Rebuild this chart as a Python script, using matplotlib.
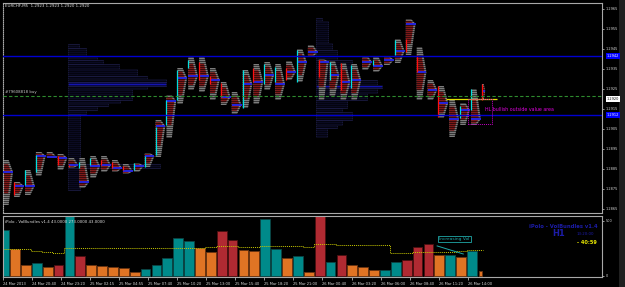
import matplotlib
matplotlib.use("Agg")
import matplotlib.pyplot as plt
import matplotlib.transforms as mtrans
from matplotlib.patches import Polygon, Rectangle
import numpy as np

plt.rcParams['font.family'] = ['DejaVu Sans']

# ---------------- data ----------------
title_text = "EURCHF,M5  1.2923 1.2923 1.2920 1.2920"
vol_title = "iPolo - VolBundles v1.4 43.0000 273.0000 43.0000"

slots = list(range(1, 46))  # hourly slots

prof_hi = [1.28895, 1.28785, 1.28845, 1.28935, 1.28935, 1.28925, 1.28905, 1.28905, 1.28915, 1.28915,
           1.28895, 1.28875, 1.28880, 1.28930, 1.29095, 1.29220, 1.29355, 1.29410, 1.29410, 1.29355,
           1.29285, 1.29235, 1.29345, 1.29375, 1.29385, 1.29375, 1.29390, 1.29450, 1.29470, 1.29400,
           1.29390, 1.29380, 1.29375, 1.29415, 1.29410, 1.29415, 1.29500, 1.29600, 1.29460, 1.29295,
           1.29265, 1.29195, 1.29180, 1.29250, 1.29275]
prof_lo = [1.28670, 1.28710, 1.28720, 1.28815, 1.28905, 1.28845, 1.28855, 1.28755, 1.28805, 1.28835,
           1.28835, 1.28825, 1.28835, 1.28860, 1.28910, 1.29005, 1.29175, 1.29245, 1.29235, 1.29195,
           1.29170, 1.29125, 1.29155, 1.29175, 1.29245, 1.29195, 1.29295, 1.29285, 1.29410, 1.29195,
           1.29215, 1.29195, 1.29195, 1.29345, 1.29335, 1.29370, 1.29380, 1.29420, 1.29195, 1.29195,
           1.29105, 1.29010, 1.29070, 1.29070, 1.29195]
prof_poc = [1.28835, 1.28765, 1.28765, 1.28915, 1.28910, 1.28905, 1.28870, 1.28785, 1.28865, 1.28870,
            1.28855, 1.28840, 1.28865, 1.28915, 1.29065, 1.29190, 1.29305, 1.29315, 1.29315, 1.29295,
            1.29210, 1.29170, 1.29275, 1.29285, 1.29320, 1.29275, 1.29335, 1.29385, 1.29435, 1.29385,
            1.29320, 1.29285, 1.29295, 1.29385, 1.29365, 1.29395, 1.29440, 1.29575, 1.29335, 1.29245,
            1.29180, 1.29100, 1.29145, 1.29100, 1.29240]
prof_open = [1.28840, 1.28785, 1.28770, 1.28835, 1.28915, 1.28915, 1.28870, 1.28855, 1.28870, 1.28895,
             1.28885, 1.28865, 1.28845, 1.28860, 1.28920, 1.29070, 1.29195, 1.29355, 1.29385, 1.29315,
             1.29280, 1.29170, 1.29155, 1.29355, 1.29275, 1.29285, 1.29355, 1.29285, 1.29440, 1.29395,
             1.29295, 1.29380, 1.29255, 1.29390, 1.29370, 1.29400, 1.29420, 1.29500, 1.29420, 1.29250,
             1.29265, 1.29100, 1.29105, 1.29145, 1.29275]
prof_close = [1.28840, 1.28720, 1.28845, 1.28920, 1.28915, 1.28870, 1.28860, 1.28885, 1.28905, 1.28870,
              1.28855, 1.28845, 1.28880, 1.28915, 1.29060, 1.29195, 1.29345, 1.29395, 1.29295, 1.29275,
              1.29210, 1.29170, 1.29345, 1.29285, 1.29375, 1.29360, 1.29295, 1.29445, 1.29440, 1.29310,
              1.29385, 1.29245, 1.29370, 1.29390, 1.29395, 1.29400, 1.29495, 1.29435, 1.29335, 1.29250,
              1.29110, 1.29100, 1.29165, 1.29250, 1.29195]

# composite (session) profiles: anchor slot, row edges (price), row widths (slots)
comp1_anchor = 6.87
comp1_edges = [1.29475, 1.29455, 1.29410, 1.29395, 1.29375, 1.29350, 1.29315, 1.29300, 1.29285,
               1.29265, 1.29250, 1.29195, 1.29180, 1.29165, 1.29145, 1.29125, 1.28875, 1.28855, 1.28745]
comp1_width = [1.01, 1.65, 2.67, 3.22, 4.69, 6.34, 7.26, 9.01, 9.01, 7.26, 5.88, 4.78, 3.68, 2.67,
               1.65, 1.10, 8.46, 1.10]
comp1_poc_row = 8
comp2_anchor = 29.67
comp2_edges = [1.29605, 1.29590, 1.29480, 1.29445, 1.29395, 1.29360, 1.29295, 1.29270, 1.29255,
               1.29230, 1.29195, 1.29155, 1.29135, 1.29095, 1.29070, 1.29055, 1.29010]
comp2_width = [0.55, 1.10, 1.47, 1.93, 3.31, 3.77, 5.61, 6.07, 5.61, 4.69, 2.85, 2.39, 3.31, 2.39,
               1.93, 1.01]
comp2_poc_row = 7

level_blue = [1.29415, 1.29120]
level_blue_labels = ["1.2942", "1.2912"]
order_price = 1.29215
order_label = "#79608818 buy"
bid_price = 1.29200
bid_label = "1.2920"
signal_text = "HL bullish outside value area"
signal_box = (43.64, 45.84, 1.29075, 1.29200)  # slot0, slot1, price lo, price hi
signal_price = 1.29145
yellow_seg = (41.6, 46.3, 1.29200)

price_ticks = [1.2965, 1.2955, 1.2945, 1.2935, 1.2925, 1.2915, 1.2905, 1.2895, 1.2885, 1.2875, 1.2865]

vol = [418, 245, 100, 118, 82, 100, 560, 182, 100, 91,
       82, 73, 36, 64, 100, 164, 345, 318, 255, 218,
       409, 327, 236, 227, 518, 245, 164, 182, 36, 560,
       127, 191, 100, 82, 55, 55, 127, 145, 264, 291,
       191, 191, 173, 227, 43]
vol_type = ['t', 'o', 'o', 't', 'o', 'r', 't', 'r', 'o', 'o',
            'o', 'o', 'o', 't', 't', 't', 't', 't', 'o', 'o',
            'r', 'r', 'o', 'o', 't', 't', 'o', 't', 'o', 'r',
            't', 'r', 'o', 'o', 'o', 't', 't', 'r', 'r', 'r',
            'o', 't', 'o', 't', 'o']
vol_avg = [243, 243, 243, 227, 215, 206, 258, 258, 255, 252,
           252, 252, 252, 250, 250, 250, 250, 252, 258, 262,
           270, 273, 265, 265, 268, 268, 268, 268, 262, 294,
           294, 282, 282, 282, 282, 282, 212, 212, 221, 221,
           221, 221, 225, 236, 236]
vol_ticks = [0, 500]

time_ticks = [0.90, 3.56, 6.23, 8.89, 11.56, 14.22, 16.89, 19.56, 22.22, 24.89,
              27.55, 30.22, 32.97, 35.64, 38.30, 40.97, 43.64]
time_labels = ["24 Mar 2013", "24 Mar 20:40", "24 Mar 23:20", "25 Mar 02:15", "25 Mar 04:55",
               "25 Mar 07:40", "25 Mar 10:20", "25 Mar 13:00", "25 Mar 15:40", "25 Mar 18:20",
               "25 Mar 21:00", "26 Mar 00:40", "26 Mar 03:20", "26 Mar 06:00", "26 Mar 08:40",
               "26 Mar 11:20", "26 Mar 14:00"]

# ---------------- figure ----------------
W, H = 625, 287
fig = plt.figure(figsize=(W / 100, H / 100), dpi=100, facecolor='black')


def fx(px):
    return px / W


def fy(py):
    return 1 - py / H


XL, XR = 3, 602
ax_p = fig.add_axes([fx(XL), fy(213), (XR - XL) / W, (213 - 3) / H])
ax_v = fig.add_axes([fx(XL), fy(277), (XR - XL) / W, (277 - 216) / H])
x_lo = (XL - 15) / 10.88 + 2
x_hi = (XR - 15) / 10.88 + 2
for ax in (ax_p, ax_v):
    ax.set_facecolor('black')
    for sp in ax.spines.values():
        sp.set_color('#a8a8a8')
        sp.set_linewidth(0.8)
    ax.set_xlim(x_lo, x_hi)
ax_p.set_ylim(1.28630, 1.29680)
ax_v.set_ylim(-9.1, 545)

# composite profiles
for anchor, edges, widths, poc_row in ((comp1_anchor, comp1_edges, comp1_width, comp1_poc_row),
                                       (comp2_anchor, comp2_edges, comp2_width, comp2_poc_row)):
    for i, w in enumerate(widths):
        top, bot = edges[i], edges[i + 1]
        fc = '#1414b0' if i == poc_row else '#0a0a22'
        ax_p.add_patch(Rectangle((anchor, bot), w, top - bot, facecolor=fc,
                                 edgecolor='#1e1e48', linewidth=0.5, zorder=1))

# hourly profiles
GRAY, DRED = '#7c7c7c', '#7e1a1a'
for k, s in enumerate(slots):
    hi, lo, poc = prof_hi[k], prof_lo[k], prof_poc[k]
    w = 0.9 if k < len(slots) - 1 else 0.3
    x0 = s - 0.08
    ax_p.add_patch(Polygon([(x0, hi), (x0 + 0.55 * w, hi), (x0 + w, poc), (x0 + 0.55 * w, lo), (x0, lo)],
                           closed=True, facecolor=GRAY, edgecolor='none', zorder=2))
    vah = poc + 0.65 * (hi - poc)
    val = poc - 0.65 * (poc - lo)
    ax_p.add_patch(Polygon([(x0, vah), (x0 + 0.5 * w, vah), (x0 + 0.8 * w, poc), (x0 + 0.5 * w, val), (x0, val)],
                           closed=True, facecolor=DRED, edgecolor='none', zorder=2.1))

# row texture
rows = np.arange(1.28630, 1.29680, 0.0001)
ax_p.hlines(rows, x_lo, x_hi, color='black', linewidth=0.4, zorder=3)

for k, s in enumerate(slots):
    w = 0.9 if k < len(slots) - 1 else 0.3
    x0 = s - 0.08
    ax_p.hlines(prof_poc[k], x0, x0 + w, color='#2424e0', linewidth=1.4, zorder=4)
    o, c = prof_open[k], prof_close[k]
    if c > o:
        ax_p.vlines(x0, o, c, color='#00e0e0', linewidth=0.9, zorder=5)
    elif c < o:
        ax_p.vlines(x0, c, o, color='#ff1010', linewidth=0.9, zorder=5)

# level lines
for lv in level_blue:
    ax_p.axhline(lv, color='#0000d0', linewidth=1.0, zorder=6)
ax_p.axhline(order_price, color='#2e8b2e', linewidth=0.8, linestyle=(0, (3, 2)), zorder=6)
ax_p.text(1.1, order_price + 0.00012, order_label, color='#c8c8c8', fontsize=2.8, va='bottom', ha='left', zorder=7)
ax_p.hlines(yellow_seg[2], yellow_seg[0], yellow_seg[1], color='#e0e000', linewidth=0.9, zorder=6)
s0, s1, plo, phi = signal_box
ax_p.add_patch(Rectangle((s0, plo), s1 - s0, phi - plo, fill=False, edgecolor='#c000c0',
                         linestyle=(0, (1, 1)), linewidth=0.7, zorder=6))
ax_p.text(45.2, signal_price, signal_text, color='#e000e0', fontsize=3.4, va='center', ha='left', zorder=7)

# price axis
ax_p.set_xticks([])
ax_p.yaxis.tick_right()
ax_p.set_yticks(price_ticks)
ax_p.set_yticklabels([f"{p:.4f}" for p in price_ticks])
ax_p.tick_params(axis='y', colors='#d8d8d8', labelsize=2.5, length=1.2, width=0.5, pad=1.2)
trans = mtrans.blended_transform_factory(ax_p.transAxes, ax_p.transData)
bx = 1.0 + 5.0 / (XR - XL)
for lv, lab in zip(level_blue, level_blue_labels):
    ax_p.text(bx, lv, lab, transform=trans, fontsize=2.5, color='white', ha='left', va='center',
              bbox=dict(boxstyle='square,pad=0.3', fc='#0000ff', ec='none'), clip_on=False, zorder=10)
ax_p.text(bx, bid_price, bid_label, transform=trans, fontsize=2.5, color='black', ha='left', va='center',
          bbox=dict(boxstyle='square,pad=0.3', fc='white', ec='none'), clip_on=False, zorder=10)
fig.text(fx(5), fy(6), title_text, color='#e0e0e0', fontsize=2.9, ha='left', va='center')

# volume panel
col_map = {'t': '#008a8a', 'o': '#e07424', 'r': '#b02a32'}
edge_map = {'t': '#0b4444', 'o': '#6a3410', 'r': '#4a1010'}
for k, s in enumerate(slots):
    w = 0.9 if k < len(slots) - 1 else 0.3
    xc = s if k < len(slots) - 1 else s - 0.22
    ax_v.bar(xc, vol[k], width=w, color=col_map[vol_type[k]], edgecolor=edge_map[vol_type[k]],
             linewidth=0.6, zorder=2)
ax_v.step(slots, vol_avg, where='mid', color='#c8c800', linewidth=0.7, linestyle=(0, (1, 1)), zorder=3)

ax_v.yaxis.tick_right()
ax_v.set_yticks(vol_ticks)
ax_v.set_yticklabels([str(v) for v in vol_ticks])
ax_v.tick_params(axis='y', colors='#d8d8d8', labelsize=2.5, length=1.2, width=0.5, pad=1.2)
ax_v.set_xticks(time_ticks)
ax_v.set_xticklabels(time_labels)
ax_v.tick_params(axis='x', colors='#d8d8d8', labelsize=2.6, length=2.5, width=0.5, pad=0.8)
for lbl in ax_v.get_xticklabels():
    lbl.set_horizontalalignment('left')

fig.text(fx(5), fy(222), vol_title, color='#e0e0e0', fontsize=2.8, ha='left', va='center')
fig.text(fx(598), fy(226), "iPolo - VolBundles v1.4", color='#1c1ca8', fontsize=3.8,
         ha='right', va='center', fontweight='bold')
fig.text(fx(552), fy(234), "H1", color='#1c1ca8', fontsize=6, ha='left', va='center', fontweight='bold')
fig.text(fx(577), fy(234), "13:20:00", color='#1c1ca8', fontsize=2.8, ha='left', va='center')
fig.text(fx(577), fy(242), "- 40:59", color='#e8e800', fontsize=3.6, ha='left', va='center', fontweight='bold')

# "Increasing Vol" annotation
ax_v.text(42.4, 336, "Increasing Vol", color='#20a8a8', fontsize=3.2, ha='center', va='center',
          bbox=dict(boxstyle='square,pad=0.25', fc='black', ec='#20a8a8', lw=0.6), zorder=5)
ax_v.plot([40.8, 43.2], [273, 200], color='#20a8a8', linewidth=0.7, zorder=5)

# right strip
fig.patches.append(Rectangle((fx(619), 0), fx(6), 1, transform=fig.transFigure,
                             facecolor='#202020', edgecolor='none', zorder=-1))

fig.savefig("out.png", dpi=100, facecolor='black')
